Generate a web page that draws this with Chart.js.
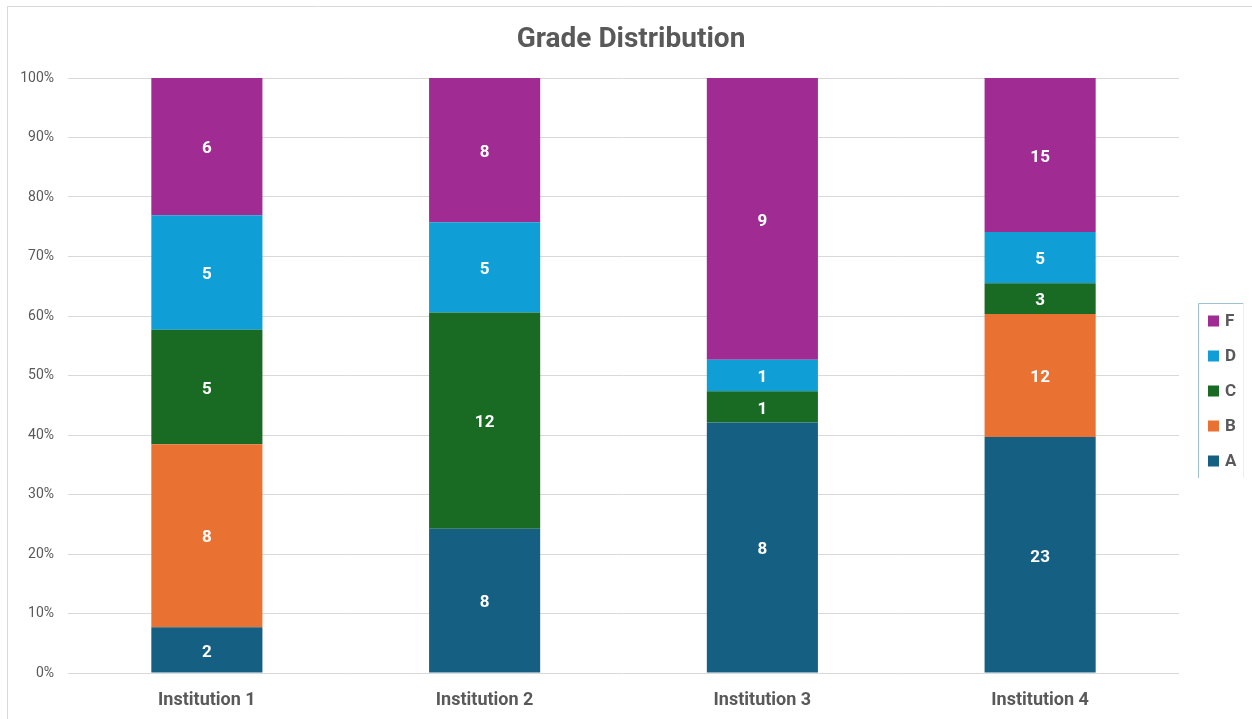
<!DOCTYPE html>
<html><head><meta charset="utf-8">
<script src="https://cdn.jsdelivr.net/npm/chart.js@4"></script>
<style>html,body{margin:0;padding:0;background:#fff}#wrap{position:relative;width:1252px;height:719px}</style>
</head><body><div id="wrap"><canvas id="c" width="1252" height="719"></canvas></div>
<script>
const categories = ['Institution 1', 'Institution 2', 'Institution 3', 'Institution 4'];
const gradeA = [2, 8, 8, 23];
const gradeB = [8, 0, 0, 12];
const gradeC = [5, 12, 1, 3];
const gradeD = [5, 5, 1, 5];
const gradeF = [6, 8, 9, 15];
const seriesNames = ['A', 'B', 'C', 'D', 'F'];
const seriesColors = ['#156082', '#E97132', '#196B24', '#0F9ED5', '#A02B93'];
const yTickLabels = ['0%','10%','20%','30%','40%','50%','60%','70%','80%','90%','100%'];

const counts = [gradeA, gradeB, gradeC, gradeD, gradeF];
const totals = categories.map((_, i) => counts.reduce((s, arr) => s + arr[i], 0));
const FONT = 'Roboto, "Open Sans", sans-serif';
const GRAY = '#595959';

const datasets = counts.map((arr, k) => ({
  label: seriesNames[k],
  data: arr.map((v, i) => v / totals[i] * 100),
  counts: arr,
  backgroundColor: seriesColors[k],
  borderWidth: 0,
  categoryPercentage: 1,
  barPercentage: 0.4
}));

const decor = {
  id: 'decor',
  beforeDraw(chart) {
    const ctx = chart.ctx;
    ctx.save();
    ctx.fillStyle = '#fff';
    ctx.fillRect(0, 0, chart.width, chart.height);
    ctx.strokeStyle = '#d9d9d9';
    ctx.lineWidth = 1;
    ctx.beginPath();
    ctx.moveTo(7.5, 719); ctx.lineTo(7.5, 6.5); ctx.lineTo(1252, 6.5);
    ctx.stroke();
    ctx.restore();
  },
  afterDatasetsDraw(chart) {
    const ctx = chart.ctx;
    ctx.save();
    ctx.font = 'bold 17px ' + FONT;
    ctx.fillStyle = '#ffffff';
    ctx.textAlign = 'center';
    ctx.textBaseline = 'middle';
    chart.data.datasets.forEach((ds, k) => {
      const meta = chart.getDatasetMeta(k);
      meta.data.forEach((bar, i) => {
        const c = ds.counts[i];
        if (!c) return;
        ctx.fillText(String(c), bar.x, (bar.y + bar.base) / 2 + 2.5);
      });
    });
    ctx.restore();
  },
  afterDraw(chart) {
    const ctx = chart.ctx;
    ctx.save();
    ctx.font = 'bold 28px ' + FONT;
    ctx.fillStyle = GRAY;
    ctx.textAlign = 'center';
    ctx.textBaseline = 'middle';
    ctx.fillText('Grade Distribution', 631, 40);
    ctx.strokeStyle = '#9cc3d5';
    ctx.lineWidth = 1;
    ctx.beginPath();
    ctx.moveTo(1198.5, 478); ctx.lineTo(1198.5, 303.5); ctx.lineTo(1243.5, 303.5);
    ctx.stroke();
    ctx.strokeStyle = '#eeeeee';
    ctx.beginPath();
    ctx.moveTo(1243.5, 303.5); ctx.lineTo(1243.5, 478);
    ctx.stroke();
    ctx.font = 'bold 17px ' + FONT;
    ctx.textAlign = 'left';
    for (let j = 0; j < seriesNames.length; j++) {
      const k = seriesNames.length - 1 - j;
      const y = 321 + j * 35;
      ctx.fillStyle = seriesColors[k];
      ctx.fillRect(1208, y - 5.5, 11, 11);
      ctx.fillStyle = GRAY;
      ctx.fillText(seriesNames[k], 1225, y + 1);
    }
    ctx.restore();
  }
};

new Chart(document.getElementById('c'), {
  type: 'bar',
  data: { labels: categories, datasets },
  options: {
    responsive: false,
    animation: false,
    layout: { padding: { left: 7, right: 73, top: 78, bottom: 0 } },
    plugins: { legend: { display: false }, tooltip: { enabled: false }, title: { display: false } },
    scales: {
      x: {
        stacked: true,
        grid: { display: false, drawTicks: false },
        border: { display: false },
        ticks: { color: GRAY, font: { family: FONT, size: 18, weight: 'bold' }, padding: 17 },
        afterFit(s) { s.height = 46; }
      },
      y: {
        stacked: true,
        min: 0, max: 100,
        grid: { color: '#d9d9d9', drawTicks: false },
        border: { display: false },
        ticks: {
          stepSize: 10,
          color: GRAY,
          font: { family: FONT, size: 14 },
          padding: 14,
          callback: (v) => yTickLabels[Math.round(v / 10)]
        },
        afterFit(s) { s.width = 61; }
      }
    }
  },
  plugins: [decor]
});
</script>
</body></html>
